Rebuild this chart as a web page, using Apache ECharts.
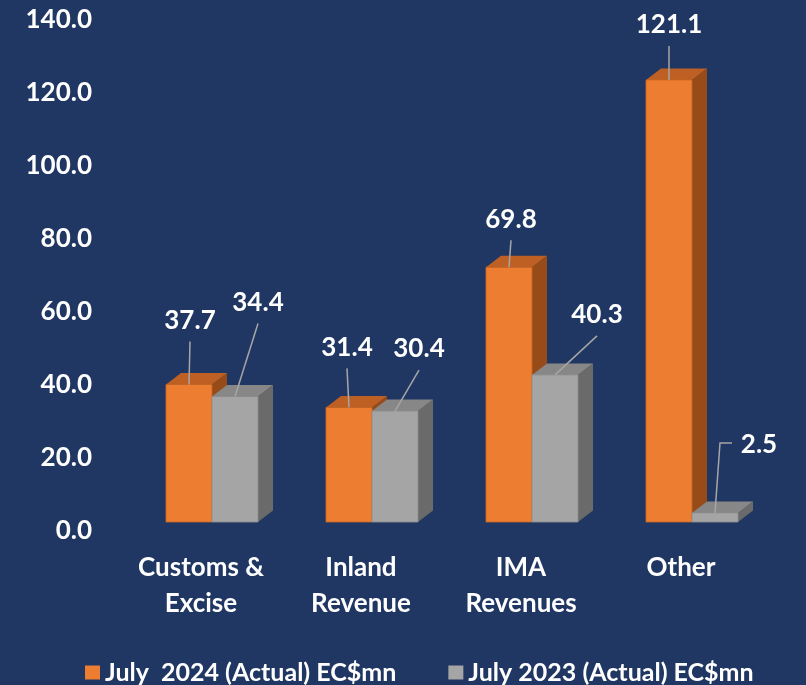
<!DOCTYPE html>
<html>
<head>
<meta charset="utf-8">
<title>Revenue July 2024 vs July 2023</title>
<script src="https://cdn.jsdelivr.net/npm/echarts@6/dist/echarts.min.js"></script>
<style>
  html, body { margin: 0; padding: 0; background: #203763; }
  #chart { width: 806px; height: 685px; }
</style>
</head>
<body>
<div id="chart"></div>
<script>
// data
var categories = ['Customs &\nExcise', 'Inland\nRevenue', 'IMA\nRevenues', 'Other'];
var seriesNames = ['July  2024 (Actual) EC$mn', 'July 2023 (Actual) EC$mn'];
var values2024 = [37.7, 31.4, 69.8, 121.1];
var values2023 = [34.4, 30.4, 40.3, 2.5];
var yTicks = { min: 0, max: 140, interval: 20 };

// label placement (offset of the label centre from the top of the bar front)
var labelShift2024 = [[1, -64], [-2, -60], [2, -48], [0, -55]];
var labelShift2023 = [[23, -94], [24, -62], [42, -60], [44, -68]];
var leaderKind2023 = ['line', 'line', 'line', 'elbow'];

var FONT = 'Lato, "Open Sans", sans-serif';
var BAR_RATIO = 46 / 160;   // bar width as share of the category band
var DEPTH_X = 15, DEPTH_Y = -11.5; // 3d depth of the bars
var LIFT = 9;               // front face sits a bit above the axis line

var colors = [
  { front: '#ED7D31', top: '#BE5F23', side: '#964B19', edge: '#C9661F' },
  { front: '#A5A5A5', top: '#878787', side: '#6A6A6A', edge: '#8E8E8E' }
];

function makeRender(idx, shifts, kinds) {
  var col = colors[idx];
  return function (params, api) {
    var i = api.value(0);
    var v = api.value(1);
    var p = api.coord([i, v]);
    var b = api.coord([i, 0]);
    var w = api.size([1, 0])[0] * BAR_RATIO;
    var x0 = idx === 0 ? p[0] - w : p[0];
    var x1 = x0 + w;
    var yt = p[1] - LIFT;
    var yb = b[1] - LIFT;
    var cx = (x0 + x1) / 2;
    var sh = shifts[i];
    var lx = cx + sh[0], ly = yt + sh[1];
    var kind = kinds ? kinds[i] : 'line';
    var leader;
    if (kind === 'elbow') {
      leader = {
        type: 'polyline',
        shape: { points: [[cx, yt], [lx - 39, ly - 2], [lx - 27, ly - 2]] },
        style: { stroke: '#A6A6A6', lineWidth: 1.5, fill: null },
        z2: 20
      };
    } else {
      leader = {
        type: 'line',
        shape: { x1: cx, y1: yt, x2: lx, y2: ly + 21 },
        style: { stroke: '#A6A6A6', lineWidth: 1.5 },
        z2: 20
      };
    }
    return {
      type: 'group',
      children: [
        {
          type: 'polygon',
          shape: { points: [[x1, yt], [x1 + DEPTH_X, yt + DEPTH_Y], [x1 + DEPTH_X, yb + DEPTH_Y], [x1, yb]] },
          style: { fill: col.side }
        },
        {
          type: 'polygon',
          shape: { points: [[x0, yt], [x0 + DEPTH_X, yt + DEPTH_Y], [x1 + DEPTH_X, yt + DEPTH_Y], [x1, yt]] },
          style: { fill: col.top }
        },
        {
          type: 'rect',
          shape: { x: x0, y: yt, width: w, height: yb - yt },
          style: { fill: col.front, stroke: col.edge, lineWidth: 0.8 }
        },
        leader,
        {
          type: 'text',
          x: lx,
          y: ly,
          z2: 30,
          style: {
            text: v.toFixed(1),
            fill: '#FFFFFF',
            font: 'bold 26px ' + FONT,
            align: 'center',
            verticalAlign: 'middle'
          }
        }
      ]
    };
  };
}

var chart = echarts.init(document.getElementById('chart'));
var option = {
  backgroundColor: '#203763',
  animation: false,
  grid: { left: 132, right: 34, top: 20, bottom: 154 },
  legend: {
    left: 80,
    top: 655,
    itemWidth: 15,
    itemHeight: 14,
    itemGap: 52,
    icon: 'rect',
    textStyle: { color: '#FFFFFF', fontFamily: FONT, fontWeight: 'bold', fontSize: 25 },
    data: seriesNames
  },
  xAxis: {
    type: 'category',
    data: categories,
    axisLine: { show: false },
    axisTick: { show: false },
    splitLine: { show: false },
    axisLabel: {
      color: '#FFFFFF',
      fontFamily: FONT,
      fontWeight: 'bold',
      fontSize: 26,
      lineHeight: 36,
      margin: 19,
      padding: [0, 22, 0, 0],
      interval: 0
    }
  },
  yAxis: {
    type: 'value',
    min: yTicks.min,
    max: yTicks.max,
    interval: yTicks.interval,
    axisLine: { show: false },
    axisTick: { show: false },
    splitLine: { show: false },
    axisLabel: {
      color: '#FFFFFF',
      fontFamily: FONT,
      fontWeight: 'bold',
      fontSize: 26,
      margin: 40,
      formatter: function (v) { return v.toFixed(1); }
    }
  },
  series: [
    {
      name: seriesNames[0],
      type: 'custom',
      itemStyle: { color: colors[0].front },
      renderItem: makeRender(0, labelShift2024, null),
      encode: { x: 0, y: 1 },
      data: values2024.map(function (v, i) { return [i, v]; })
    },
    {
      name: seriesNames[1],
      type: 'custom',
      itemStyle: { color: colors[1].front },
      renderItem: makeRender(1, labelShift2023, leaderKind2023),
      encode: { x: 0, y: 1 },
      data: values2023.map(function (v, i) { return [i, v]; })
    }
  ]
};
chart.setOption(option);
</script>
</body>
</html>
